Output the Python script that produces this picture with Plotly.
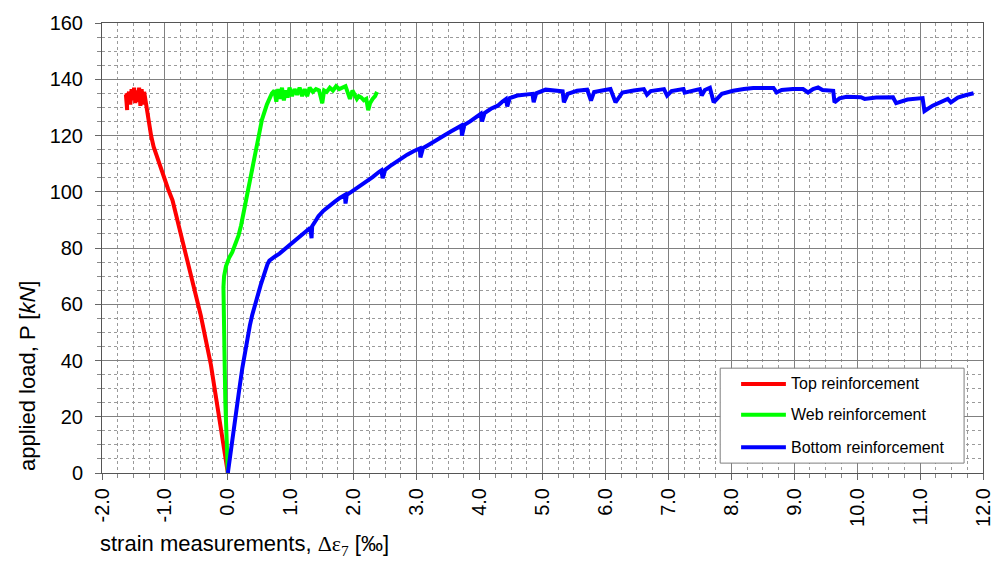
import plotly.graph_objects as go

# ---------------- data ----------------
top_x = [0, -0.07, -0.14, -0.27, -0.43, -0.55, -0.62, -0.70, -0.75, -0.82,
         -0.88, -0.95, -1.01, -1.07, -1.12, -1.18, -1.22, -1.26, -1.29, -1.31,
         -1.33, -1.35, -1.37, -1.39, -1.41, -1.43, -1.45, -1.47, -1.49, -1.51,
         -1.53, -1.55, -1.57, -1.59, -1.61, -1.60, -1.62]
top_y = [0, 10.5, 21, 38.5, 56, 67, 74, 80.5, 85, 91,
         97, 101, 105, 109, 112.5, 116, 120, 125, 129, 133,
         135.5, 131, 136.5, 130.5, 137, 132, 136, 131.5, 137, 132.5,
         136.5, 131, 135.5, 134, 135, 129, 134.5]

web_x = [0, -0.02, -0.04, -0.05, -0.06, -0.07, -0.07, -0.06, -0.03, 0.02,
         0.07, 0.12, 0.17, 0.21, 0.25, 0.29, 0.33, 0.37, 0.41, 0.45,
         0.48, 0.51, 0.54, 0.58, 0.62, 0.66, 0.70, 0.74, 0.77, 0.80,
         0.83, 0.86, 0.89, 0.92, 0.95, 0.98, 1.02, 1.06, 1.10, 1.14,
         1.18, 1.22, 1.26, 1.30, 1.35, 1.40, 1.45, 1.50, 1.53, 1.57,
         1.62, 1.67, 1.72, 1.77, 1.82, 1.87, 1.91, 1.94, 1.98, 2.02,
         2.05, 2.08, 2.12, 2.16, 2.20, 2.23, 2.26, 2.30, 2.34, 2.37]
web_y = [0, 10, 25, 38, 50, 60, 66, 70, 73.5, 76.5,
         78.5, 81.5, 84.5, 88, 92.5, 96.5, 100.5, 104.5, 109, 114,
         118, 122, 125.5, 128.5, 131, 133, 135, 136, 132, 136.5,
         133, 137, 132.5, 136, 133.5, 137, 134, 136.5, 134.5, 137,
         134, 136.5, 134, 137, 135.5, 136.5, 136, 131.5, 136, 135.5,
         137, 136, 137.5, 136.5, 137, 137.5, 135, 133, 136, 134,
         133, 134, 133.5, 132.5, 133, 129, 131.5, 133, 134, 135.5]

bottom_x = [0, 0.06, 0.12, 0.18, 0.23, 0.27, 0.31, 0.35, 0.385, 0.44,
            0.48, 0.52, 0.56, 0.60, 0.63, 0.66, 0.70, 0.75, 0.82, 0.90,
            0.99, 1.06, 1.12, 1.20, 1.28, 1.31, 1.33, 1.34, 1.39, 1.44,
            1.52, 1.60, 1.70, 1.78, 1.86, 1.87, 1.89, 1.95, 2.05, 2.18,
            2.30, 2.40, 2.44, 2.46, 2.50, 2.60, 2.71, 2.85, 2.95, 3.05,
            3.06, 3.10, 3.20, 3.30, 3.37, 3.45, 3.55, 3.65, 3.71, 3.72,
            3.76, 3.85, 3.95, 4.02, 4.04, 4.08, 4.18, 4.29, 4.36, 4.42,
            4.44, 4.48, 4.60, 4.72, 4.84, 4.86, 4.90, 5.05, 5.20, 5.32,
            5.34, 5.40, 5.55, 5.71, 5.77, 5.82, 5.95, 6.08, 6.16, 6.27,
            6.45, 6.61, 6.66, 6.72, 6.93, 6.98, 7.05, 7.24, 7.26, 7.50,
            7.53, 7.58, 7.66, 7.72, 7.85, 8.03, 8.20, 8.35, 8.50, 8.67,
            8.72, 8.80, 8.98, 9.14, 9.22, 9.30, 9.38, 9.45, 9.62, 9.64,
            9.72, 9.83, 10.06, 10.12, 10.30, 10.57, 10.62, 10.80, 11.04, 11.07,
            11.20, 11.32, 11.44, 11.49, 11.60, 11.72, 11.85]
bottom_y = [0, 10.5, 21, 29.5, 37.3, 43, 48, 52.5, 56, 60.8,
            64, 66.7, 69.5, 72.5, 74.3, 75.5, 76.3, 77, 78, 79.5,
            81, 82.3, 83.3, 85, 86.6, 87.2, 83.5, 87.8, 89.5, 91.3,
            93.3, 94.9, 96.5, 97.8, 98.9, 95.8, 98.9, 99.8, 101.3, 103,
            105.2, 107, 107.6, 104.8, 107.8, 109.5, 111.3, 113.2, 114.4, 115.4,
            112.2, 115.5, 116.8, 118, 118.9, 120.2, 121.5, 122.7, 123.5, 120,
            123.8, 125, 126.5, 127.7, 125, 128, 129.5, 130.6, 132, 133,
            130.3, 133.3, 134.2, 134.6, 134.8, 131.8, 135, 136.3, 136, 135.7,
            131.8, 134.8, 135.9, 136.3, 132.4, 135.5, 136, 136.5, 131.8, 135.3,
            136, 136.5, 134.5, 135.8, 136.5, 134.2, 135.8, 136.5, 135.2, 136.5,
            134.2, 136.2, 137, 131.8, 134.8, 135.9, 136.5, 136.9, 136.9, 136.9,
            135.3, 136.2, 136.5, 136.5, 135.3, 136.5, 137.1, 136.2, 135.9, 131.8,
            133.2, 133.8, 133.6, 133, 133.5, 133.6, 131.5, 132.8, 133.3, 128.7,
            130.6, 131.8, 133, 131.8, 133.5, 134.3, 135]

series_names = ["Top reinforcement", "Web reinforcement", "Bottom reinforcement"]
series_colors = ["#ff0000", "#00ff00", "#0000ff"]

x_tickvals = [-2, -1, 0, 1, 2, 3, 4, 5, 6, 7, 8, 9, 10, 11, 12]
x_ticktext = ["-2.0", "-1.0", "0.0", "1.0", "2.0", "3.0", "4.0", "5.0", "6.0",
              "7.0", "8.0", "9.0", "10.0", "11.0", "12.0"]
y_tickvals = [0, 20, 40, 60, 80, 100, 120, 140, 160]

# ---------------- figure ----------------
FONT = "Arial, 'Liberation Sans', sans-serif"
W, H = 1006, 561
ML, MR, MT, MB = 102, 19, 18, 88
PW, PH = W - ML - MR, H - MT - MB


def px2paper_x(px):
    return (px - ML) / PW


def px2paper_y(py):
    return (H - MB - py) / PH


fig = go.Figure()
for i, (xs, ys) in enumerate([(top_x, top_y), (web_x, web_y), (bottom_x, bottom_y)]):
    fig.add_trace(go.Scatter(x=xs, y=ys, mode="lines", name=series_names[i],
                             showlegend=False,
                             line=dict(color=series_colors[i], width=4)))

fig.update_layout(
    width=W, height=H, autosize=False,
    margin=dict(l=ML, r=MR, t=MT, b=MB),
    paper_bgcolor="white", plot_bgcolor="white",
    font=dict(family=FONT, color="black"),
    showlegend=False,
)
fig.update_xaxes(range=[-2, 12], tickmode="array", tickvals=x_tickvals, ticktext=x_ticktext,
                 tickangle=-90, ticks="outside", ticklen=6, tickcolor="#666666",
                 tickfont=dict(size=20, family=FONT, color="black"),
                 showgrid=True, gridcolor="#808080", gridwidth=1,
                 minor=dict(dtick=0.25, tick0=0, showgrid=True, gridcolor="#9a9a9a",
                            griddash="dot", ticks="outside", ticklen=4, tickcolor="#888888"),
                 showline=True, linecolor="#555555", linewidth=1, mirror=True,
                 zeroline=False)
fig.update_yaxes(range=[0, 160], tickmode="array", tickvals=y_tickvals,
                 ticks="outside", ticklen=6, tickcolor="#666666",
                 tickfont=dict(size=20, family=FONT, color="black"),
                 ticklabelstandoff=8,
                 showgrid=True, gridcolor="#808080", gridwidth=1,
                 minor=dict(dtick=5, tick0=0, showgrid=True, gridcolor="#9a9a9a",
                            griddash="dot", ticks="outside", ticklen=4, tickcolor="#888888"),
                 showline=True, linecolor="#555555", linewidth=1, mirror=True,
                 zeroline=False)

# axis titles
fig.add_annotation(xref="paper", yref="paper", x=0, y=0, xanchor="left", yanchor="middle",
                   xshift=-4, yshift=-72, showarrow=False,
                   text="strain measurements, <span style=\"font-family:'Liberation Serif','Times New Roman',serif\">Δε<sub>7</sub></span> [‰]",
                   font=dict(size=22, family=FONT, color="black"))
fig.add_annotation(xref="paper", yref="paper", x=0, y=0, xanchor="center", yanchor="bottom",
                   xshift=-75, yshift=0, showarrow=False, textangle=-90,
                   text="applied load, P [<i>kN</i>]",
                   font=dict(size=22, family=FONT, color="black"))

# legend box drawn in the lower right corner
fig.add_shape(type="rect", xref="paper", yref="paper",
              x0=px2paper_x(723), x1=px2paper_x(968), y0=px2paper_y(463), y1=px2paper_y(367),
              fillcolor="white", line=dict(color="#7f7f7f", width=1), layer="above")
legend_rows = [383, 414, 447]
for i, name in enumerate(series_names):
    yy = px2paper_y(legend_rows[i])
    fig.add_shape(type="line", xref="paper", yref="paper",
                  x0=px2paper_x(744), x1=px2paper_x(789), y0=yy, y1=yy,
                  line=dict(color=series_colors[i], width=4), layer="above")
    fig.add_annotation(xref="paper", yref="paper", x=px2paper_x(792), y=yy,
                       xanchor="left", yanchor="middle", showarrow=False,
                       text=name, font=dict(size=16, family=FONT, color="black"))

fig.write_html("out.html")
